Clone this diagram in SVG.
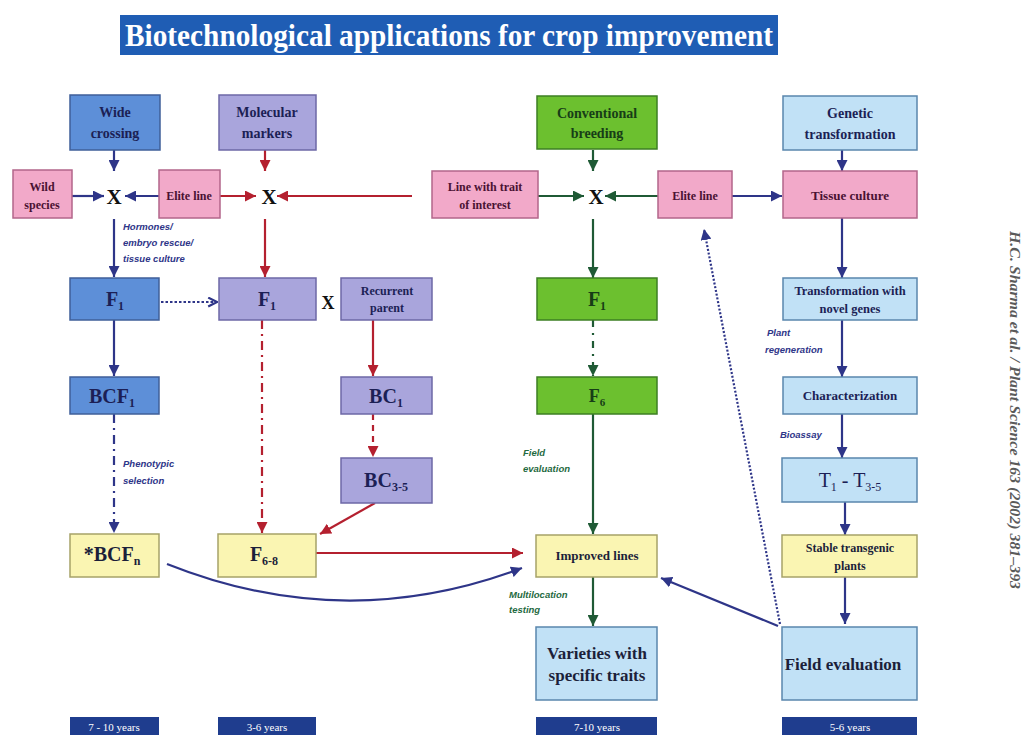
<svg xmlns="http://www.w3.org/2000/svg" width="1030" height="735" viewBox="0 0 1030 735">
<style>
.bx{stroke-width:1.5}
.blue{fill:#5d8fd8;stroke:#3f5f99}
.purp{fill:#a9a5dc;stroke:#6d68a6}
.green{fill:#6cc02f;stroke:#3d7f23}
.lblue{fill:#c1e1f6;stroke:#5a86ad}
.pink{fill:#f2a9c9;stroke:#b3668a}
.yel{fill:#faf5b2;stroke:#a6a268}
.t{font-family:"Liberation Serif","Times New Roman",serif;font-weight:bold;text-anchor:middle}
.tn{fill:#1c1f55}
.tg{fill:#173d17}
.tp{fill:#4a1233}
.tb{fill:#1c1f3a}
.lab{font-family:"Liberation Sans",Arial,sans-serif;font-style:italic;font-weight:bold;font-size:9.5px}
.ln{stroke:#2e3588;stroke-width:2.2;fill:none}
.lr{stroke:#b4202f;stroke-width:2.2;fill:none}
.lg{stroke:#1f5a35;stroke-width:2.2;fill:none}
.yr{fill:#1f3d8e}
.yt{font-family:"Liberation Serif","Times New Roman",serif;font-size:11px;fill:#ffffff;text-anchor:middle}
</style>
<defs>
<marker id="an" viewBox="0 0 10 10" refX="10" refY="5" markerWidth="11" markerHeight="11" markerUnits="userSpaceOnUse" orient="auto"><path d="M0,0 L10,5 L0,10 z" fill="#2e3588"/></marker>
<marker id="ar" viewBox="0 0 10 10" refX="10" refY="5" markerWidth="11" markerHeight="11" markerUnits="userSpaceOnUse" orient="auto"><path d="M0,0 L10,5 L0,10 z" fill="#b4202f"/></marker>
<marker id="ag" viewBox="0 0 10 10" refX="10" refY="5" markerWidth="11" markerHeight="11" markerUnits="userSpaceOnUse" orient="auto"><path d="M0,0 L10,5 L0,10 z" fill="#1f5a35"/></marker>
<marker id="ao" viewBox="0 0 10 10" refX="9" refY="5" markerWidth="11" markerHeight="11" markerUnits="userSpaceOnUse" orient="auto"><path d="M1,1 L9,5 L1,9" fill="none" stroke="#2e3588" stroke-width="2"/></marker>
</defs>
<rect width="1030" height="735" fill="#ffffff"/>

<g id="title">
<rect x="120" y="15" width="658" height="40" fill="#1f5db4"/>
<text x="449" y="46" font-family="'Liberation Serif','Times New Roman',serif" font-weight="bold" font-size="31" fill="#ffffff" text-anchor="middle" textLength="648" lengthAdjust="spacingAndGlyphs">Biotechnological applications for crop improvement</text>
</g>

<g id="connectors">
<!-- navy -->
<line class="ln" x1="114" y1="150" x2="114" y2="171" marker-end="url(#an)"/>
<line class="ln" x1="72" y1="196" x2="104" y2="196" marker-end="url(#an)"/>
<line class="ln" x1="159" y1="196" x2="125" y2="196" marker-end="url(#an)"/>
<line class="ln" x1="114" y1="219" x2="114" y2="277" marker-end="url(#an)"/>
<line class="ln" x1="114" y1="320" x2="114" y2="376" marker-end="url(#an)"/>
<line class="ln" x1="114" y1="414" x2="114" y2="533" stroke-dasharray="9,5,2,5" marker-end="url(#an)"/>
<line class="ln" x1="161" y1="302" x2="217" y2="302" stroke-dasharray="2.5,2" stroke-width="2.5" marker-end="url(#ao)"/>
<path class="ln" d="M167,564 Q345,635 522,568" marker-end="url(#an)"/>
<line class="ln" x1="732" y1="196" x2="782" y2="196" marker-end="url(#an)"/>
<line class="ln" x1="842" y1="150" x2="842" y2="171" marker-end="url(#an)"/>
<line class="ln" x1="842" y1="218" x2="842" y2="278" marker-end="url(#an)"/>
<line class="ln" x1="842" y1="320" x2="842" y2="377" marker-end="url(#an)"/>
<line class="ln" x1="842" y1="414" x2="842" y2="458" marker-end="url(#an)"/>
<line class="ln" x1="845" y1="502" x2="845" y2="535" marker-end="url(#an)"/>
<line class="ln" x1="845" y1="577" x2="845" y2="624" marker-end="url(#an)"/>
<line class="ln" x1="778" y1="626" x2="661" y2="578" marker-end="url(#an)"/>
<line class="ln" x1="780" y1="624" x2="704" y2="229" stroke-dasharray="2,1.8" stroke-width="2" marker-end="url(#an)"/>
<!-- red -->
<line class="lr" x1="265" y1="150" x2="265" y2="171" marker-end="url(#ar)"/>
<line class="lr" x1="220" y1="196" x2="256" y2="196" marker-end="url(#ar)"/>
<line class="lr" x1="412" y1="196" x2="277" y2="196" marker-end="url(#ar)"/>
<line class="lr" x1="265" y1="219" x2="265" y2="277" marker-end="url(#ar)"/>
<line class="lr" x1="262" y1="320" x2="262" y2="533" stroke-dasharray="9,5,2,5" marker-end="url(#ar)"/>
<line class="lr" x1="373" y1="320" x2="373" y2="376" marker-end="url(#ar)"/>
<line class="lr" x1="373" y1="414" x2="373" y2="457" stroke-dasharray="6,5" marker-end="url(#ar)"/>
<line class="lr" x1="375" y1="503" x2="320" y2="534" marker-end="url(#ar)"/>
<line class="lr" x1="316" y1="553" x2="523" y2="553" marker-end="url(#ar)"/>
<!-- green -->
<line class="lg" x1="593" y1="150" x2="593" y2="171" marker-end="url(#ag)"/>
<line class="lg" x1="538" y1="196" x2="584" y2="196" marker-end="url(#ag)"/>
<line class="lg" x1="658" y1="196" x2="605" y2="196" marker-end="url(#ag)"/>
<line class="lg" x1="593" y1="219" x2="593" y2="278" marker-end="url(#ag)"/>
<line class="lg" x1="593" y1="320" x2="593" y2="376" stroke-dasharray="7,6,2,6" marker-end="url(#ag)"/>
<line class="lg" x1="593" y1="414" x2="593" y2="534" marker-end="url(#ag)"/>
<line class="lg" x1="593" y1="577" x2="593" y2="626" marker-end="url(#ag)"/>
</g>

<g id="labels">
<text class="lab" fill="#2e3588"><tspan x="123" y="230">Hormones/</tspan><tspan x="123" y="246">embryo rescue/</tspan><tspan x="123" y="262">tissue culture</tspan></text>
<text class="lab" fill="#2e3588"><tspan x="123" y="467">Phenotypic</tspan><tspan x="123" y="484">selection</tspan></text>
<text class="lab" fill="#1f6a3f"><tspan x="523" y="456">Field</tspan><tspan x="523" y="472">evaluation</tspan></text>
<text class="lab" fill="#1f6a3f"><tspan x="509" y="598">Multilocation</tspan><tspan x="509" y="613">testing</tspan></text>
<text class="lab" fill="#2e3588"><tspan x="767" y="336">Plant</tspan><tspan x="765" y="353">regeneration</tspan></text>
<text class="lab" fill="#2e3588" x="780" y="438">Bioassay</text>
<text class="t" x="114" y="204" font-size="21" fill="#111">X</text>
<text class="t" x="269" y="204" font-size="21" fill="#111">X</text>
<text class="t" x="596" y="204" font-size="21" fill="#111">X</text>
<text class="t" x="328" y="309" font-size="18" fill="#111">X</text>
</g>

<g id="wide-crossing"><rect class="bx blue" x="70" y="95" width="90" height="55"/><text class="t tn" font-size="14"><tspan x="115" y="117">Wide</tspan><tspan x="115" y="138">crossing</tspan></text></g>
<g id="molecular-markers"><rect class="bx purp" x="219" y="95" width="97" height="55"/><text class="t tn" font-size="14"><tspan x="267" y="117">Molecular</tspan><tspan x="267" y="138">markers</tspan></text></g>
<g id="conventional-breeding"><rect class="bx green" x="537" y="96" width="120" height="53"/><text class="t tg" font-size="14"><tspan x="597" y="118">Conventional</tspan><tspan x="597" y="138">breeding</tspan></text></g>
<g id="genetic-transformation"><rect class="bx lblue" x="783" y="96" width="134" height="54"/><text class="t tn" font-size="14"><tspan x="850" y="118">Genetic</tspan><tspan x="850" y="139">transformation</tspan></text></g>

<g id="wild-species"><rect class="bx pink" x="13" y="170" width="59" height="48"/><text class="t tp" font-size="12"><tspan x="42" y="191">Wild</tspan><tspan x="42" y="209">species</tspan></text></g>
<g id="elite-line-left"><rect class="bx pink" x="159" y="170" width="61" height="48"/><text class="t tp" font-size="12" x="189" y="200">Elite line</text></g>
<g id="line-with-trait"><rect class="bx pink" x="432" y="171" width="106" height="47"/><text class="t tp" font-size="12"><tspan x="485" y="191">Line with trait</tspan><tspan x="485" y="209">of interest</tspan></text></g>
<g id="elite-line-right"><rect class="bx pink" x="658" y="171" width="74" height="47"/><text class="t tp" font-size="12" x="695" y="200">Elite line</text></g>
<g id="tissue-culture"><rect class="bx pink" x="783" y="171" width="134" height="47"/><text class="t tp" font-size="13" x="850" y="200">Tissue culture</text></g>

<g id="f1-blue"><rect class="bx blue" x="70" y="278" width="89" height="42"/><text class="t tn" font-size="20" x="115" y="306">F<tspan font-size="12" dy="4">1</tspan></text></g>
<g id="f1-purple"><rect class="bx purp" x="219" y="278" width="97" height="42"/><text class="t tn" font-size="20" x="267" y="306">F<tspan font-size="12" dy="4">1</tspan></text></g>
<g id="recurrent-parent"><rect class="bx purp" x="341" y="278" width="91" height="42"/><text class="t tn" font-size="12"><tspan x="387" y="295">Recurrent</tspan><tspan x="387" y="312">parent</tspan></text></g>
<g id="f1-green"><rect class="bx green" x="537" y="278" width="120" height="42"/><text class="t tg" font-size="20" x="597" y="306">F<tspan font-size="12" dy="4">1</tspan></text></g>
<g id="transformation-novel-genes"><rect class="bx lblue" x="783" y="278" width="134" height="42"/><text class="t tn" font-size="12.5"><tspan x="850" y="295">Transformation with</tspan><tspan x="850" y="313">novel genes</tspan></text></g>

<g id="bcf1"><rect class="bx blue" x="70" y="377" width="89" height="37"/><text class="t tn" font-size="20" x="112" y="403">BCF<tspan font-size="12" dy="4">1</tspan></text></g>
<g id="bc1"><rect class="bx purp" x="341" y="377" width="91" height="37"/><text class="t tn" font-size="20" x="386" y="403">BC<tspan font-size="12" dy="4">1</tspan></text></g>
<g id="f6"><rect class="bx green" x="537" y="377" width="120" height="37"/><text class="t tg" font-size="18" x="597" y="402">F<tspan font-size="11" dy="4">6</tspan></text></g>
<g id="characterization"><rect class="bx lblue" x="783" y="377" width="134" height="37"/><text class="t tn" font-size="13" x="850" y="400">Characterization</text></g>

<g id="bc3-5"><rect class="bx purp" x="341" y="458" width="91" height="45"/><text class="t tn" font-size="20" x="386" y="487">BC<tspan font-size="12" dy="4">3-5</tspan></text></g>
<g id="t1-t35"><rect class="bx lblue" x="782" y="458" width="135" height="44"/><text font-family="'Liberation Serif','Times New Roman',serif" font-size="20" fill="#1c1f55" text-anchor="middle" x="850" y="487">T<tspan font-size="12" dy="4">1</tspan><tspan dy="-4"> - T</tspan><tspan font-size="12" dy="4">3-5</tspan></text></g>

<g id="bcfn"><rect class="bx yel" x="70" y="534" width="89" height="43"/><text class="t tb" font-size="20" x="112" y="561">*BCF<tspan font-size="12" dy="4">n</tspan></text></g>
<g id="f6-8"><rect class="bx yel" x="218" y="534" width="98" height="43"/><text class="t tb" font-size="20" x="264" y="561">F<tspan font-size="12" dy="4">6-8</tspan></text></g>
<g id="improved-lines"><rect class="bx yel" x="536" y="535" width="121" height="42"/><text class="t tb" font-size="13" x="597" y="560">Improved lines</text></g>
<g id="stable-transgenic"><rect class="bx yel" x="782" y="535" width="135" height="42"/><text class="t tb" font-size="12"><tspan x="850" y="552">Stable transgenic</tspan><tspan x="850" y="570">plants</tspan></text></g>

<g id="varieties"><rect class="bx lblue" x="536" y="627" width="121" height="73"/><text class="t tb" font-size="17"><tspan x="597" y="659">Varieties with</tspan><tspan x="597" y="681">specific traits</tspan></text></g>
<g id="field-evaluation"><rect class="bx lblue" x="782" y="627" width="135" height="73"/><text class="t tb" font-size="17" x="843" y="670">Field evaluation</text></g>

<g id="years">
<rect class="yr" x="70" y="717" width="89" height="20"/><text class="yt" x="114" y="731">7 - 10 years</text>
<rect class="yr" x="218" y="717" width="98" height="20"/><text class="yt" x="267" y="731">3-6 years</text>
<rect class="yr" x="536" y="717" width="121" height="20"/><text class="yt" x="597" y="731">7-10 years</text>
<rect class="yr" x="782" y="717" width="135" height="20"/><text class="yt" x="850" y="731">5-6 years</text>
</g>

<g id="citation">
<text x="1010" y="410" transform="rotate(90 1010 410)" font-family="'Liberation Serif','Times New Roman',serif" font-style="italic" font-weight="bold" font-size="14" fill="#5a5a5a" text-anchor="middle" textLength="358" lengthAdjust="spacingAndGlyphs">H.C. Sharma et al. / Plant Science 163 (2002) 381–393</text>
</g>
</svg>
